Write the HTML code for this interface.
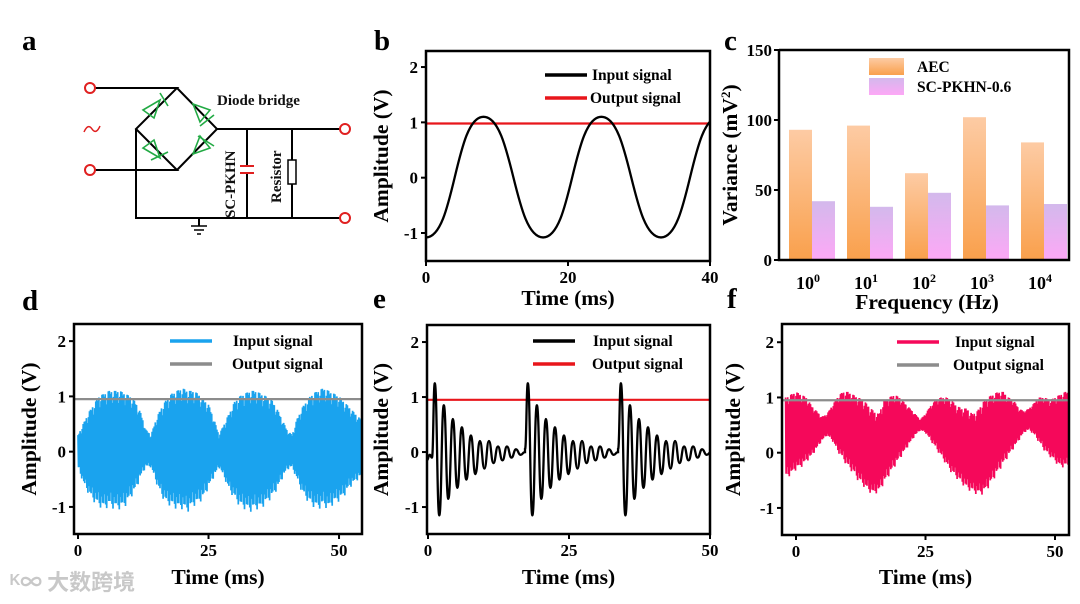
<!DOCTYPE html>
<html><head><meta charset="utf-8"><style>
html,body{margin:0;padding:0;background:#fff;}
svg{display:block;font-family:"Liberation Serif","Noto Serif CJK SC",serif;font-weight:bold;}
</style></head><body>
<svg id="fig" width="1080" height="604" viewBox="0 0 1080 604" xmlns="http://www.w3.org/2000/svg">
<defs>
<linearGradient id="gAec" x1="0" y1="0" x2="0" y2="1"><stop offset="0" stop-color="#fdcba4"/><stop offset="1" stop-color="#f9a04c"/></linearGradient>
<linearGradient id="gSc" x1="0" y1="0" x2="0" y2="1"><stop offset="0" stop-color="#d3b9ec"/><stop offset="1" stop-color="#fda8f6"/></linearGradient>
</defs>
<g font-size="29">
<text x="22" y="50">a</text>
<text x="374" y="50">b</text>
<text x="724" y="50">c</text>
<text x="22" y="310">d</text>
<text x="373" y="308">e</text>
<text x="727" y="308">f</text>
</g>
<g stroke="#000" stroke-width="2" fill="none">
<polyline points="95,88 177,88 136,129 177,170 95,170"/>
<polyline points="177,88 217,129 177,170"/>
<polyline points="136,129 136,218 340,218"/>
<line x1="217" y1="129" x2="340" y2="129"/>
<line x1="247" y1="129" x2="247" y2="167"/><line x1="247" y1="173" x2="247" y2="218"/>
<line x1="292" y1="129" x2="292" y2="160"/><line x1="292" y1="184" x2="292" y2="218"/>
<rect x="288" y="160" width="8" height="24" stroke-width="1.5"/>
<line x1="199" y1="218" x2="199" y2="226"/>
<line x1="191" y1="226" x2="207" y2="226" stroke-width="1.5"/><line x1="194" y1="230" x2="204" y2="230" stroke-width="1.5"/><line x1="197" y1="234" x2="201" y2="234" stroke-width="1.5"/>
<g stroke="#e02020" stroke-width="2"><line x1="240" y1="166" x2="254" y2="166"/><line x1="240" y1="173" x2="254" y2="173"/>
<circle cx="90" cy="88" r="5"/><circle cx="90" cy="170" r="5"/><circle cx="345" cy="129" r="5"/><circle cx="345" cy="218" r="5"/>
<path d="M84,132 q4,-9 8,-3 t8,-3" stroke-width="1.5"/></g>
<g stroke="#22aa44" stroke-width="1.6">
<polygon points="143,110 160,100 154,118"/><line x1="160" y1="93" x2="168" y2="106"/>
<polygon points="193,104 210,110 200,122"/><line x1="200" y1="126" x2="214" y2="115"/>
<polygon points="143,148 160,158 154,140"/><line x1="151" y1="160" x2="168" y2="152"/>
<polygon points="193,154 210,148 200,136"/><line x1="198" y1="136" x2="214" y2="146"/>
</g>
</g>
<g font-size="15" fill="#111">
<text x="217" y="105">Diode bridge</text>
<text transform="translate(235,218) rotate(-90)">SC-PKHN</text>
<text transform="translate(281,203) rotate(-90)">Resistor</text>
</g>
<text x="10" y="590" font-size="22" fill="#c8c8c8" font-family="Noto Sans CJK SC,sans-serif">ᴷ∞ 大数跨境</text>
<g id="charts"></g>
</svg>
<script>
// Panel b data (extrema of input sine)
const bTimes=[0,8.1,16.5,24.7,33.1,41.3];
const bVals=[-1.08,1.1,-1.08,1.1,-1.08,1.1];
const bOutput=0.98;
// Panel c data
const cCats=['0','1','2','3','4'];
const cAec=[93,96,62,102,84];
const cSc=[42,38,48,39,40];
const cTicks=[0,50,100,150];
// Panel d data: envelope samples every 1 ms from t=0
const dStart=0;
const dUpper=[0.3,0.5,0.7,0.85,1.0,1.05,1.1,1.1,1.1,1.05,1.0,0.9,0.7,0.4,0.3,0.6,0.8,0.95,1.05,1.1,1.15,1.1,1.1,1.05,0.95,0.85,0.6,0.3,0.5,0.7,0.9,1.0,1.05,1.1,1.1,1.05,1.0,0.95,0.8,0.6,0.4,0.3,0.6,0.8,0.95,1.05,1.1,1.15,1.1,1.05,1.0,0.9,0.8,0.7,0.6];
const dLower=[-0.3,-0.6,-0.8,-0.95,-1.05,-1.1,-1.05,-1.1,-1.1,-1.05,-0.9,-0.75,-0.5,-0.3,-0.3,-0.6,-0.85,-1.0,-1.05,-1.1,-1.1,-1.15,-1.05,-1.0,-0.9,-0.7,-0.5,-0.3,-0.5,-0.75,-0.9,-1.05,-1.1,-1.15,-1.1,-1.1,-1.0,-0.9,-0.75,-0.55,-0.35,-0.3,-0.55,-0.8,-0.95,-1.05,-1.1,-1.05,-1.1,-1.0,-0.95,-0.85,-0.7,-0.6,-0.5];
const dOutput=0.95;
// Panel e data
const ePulses=[1.2,17.7,34.2];
const eRing=[1.25,-1.15,0.85,-0.85,0.6,-0.65,0.45,-0.5,0.3,-0.4,0.2,-0.3,0.2,-0.2,0.1,-0.15,0.1,-0.1,0.05,-0.05];
const eHalf=0.8;
const eOutput=0.95;
// Panel f data: envelope every 1 ms from t=-2
const fStart=-2;
const fUpper=[1.0,1.05,1.1,1.05,1.0,0.85,0.75,0.65,0.7,0.85,1.0,1.1,1.1,1.05,1.0,0.95,0.85,0.75,0.7,0.95,1.0,1.05,1.0,0.9,0.8,0.7,0.6,0.7,0.85,0.95,1.0,1.0,0.95,0.85,0.8,0.8,0.7,0.75,0.9,1.0,1.05,1.1,1.1,1.0,0.95,0.8,0.75,0.8,0.9,1.0,1.0,0.95,1.0,1.05,1.1];
const fLower=[-0.5,-0.45,-0.35,-0.3,-0.2,-0.1,0.05,0.2,0.3,0.2,0.0,-0.15,-0.3,-0.4,-0.55,-0.65,-0.75,-0.8,-0.75,-0.6,-0.45,-0.3,-0.15,0.0,0.15,0.3,0.4,0.35,0.2,0.05,-0.1,-0.25,-0.4,-0.5,-0.6,-0.7,-0.75,-0.8,-0.8,-0.7,-0.55,-0.4,-0.25,-0.1,0.05,0.2,0.35,0.4,0.3,0.15,0.0,-0.1,-0.2,-0.3,-0.3];
const fOutput=0.95;
const ampTicks=[-1,0,1,2];
// spike-depth texture for the noisy traces (fraction of envelope reached per sub-sample)
const spikeDepth=[1,0.85,0.95,0.7,0.98,0.88,0.8,0.95,0.9,0.75,1,0.85];

const NS='http://www.w3.org/2000/svg';
const root=document.getElementById('charts');
function el(tag,parent){const e=document.createElementNS(NS,tag);(parent||root).appendChild(e);return e;}
function scales(P){P.sx=v=>P.x0+(v-P.xmin)/(P.xmax-P.xmin)*(P.x1-P.x0);P.sy=v=>P.y1-(v-P.ymin)/(P.ymax-P.ymin)*(P.y1-P.y0);return P;}

function axes(P,name,xt,ylab,xlab,xlabY){
  const g=el('g');
  
  
  const cp=el('clipPath',g);cp.setAttribute('id','clip-'+name);
  const cr=el('rect',cp);cr.setAttribute('x',P.x0);cr.setAttribute('y',P.y0);cr.setAttribute('width',P.x1-P.x0);cr.setAttribute('height',P.y1-P.y0);
  P.g=el('g',g);P.g.setAttribute('clip-path','url(#clip-'+name+')');
  const box=el('rect',g);
  
  
  box.setAttribute('x',P.x0);box.setAttribute('y',P.y0);box.setAttribute('width',P.x1-P.x0);box.setAttribute('height',P.y1-P.y0);
  box.setAttribute('fill','none');box.setAttribute('stroke','#000');box.setAttribute('stroke-width','2.5');
  ampTicks.forEach(v=>{
    const y=P.sy(v);
    const l=el('line',g);l.setAttribute('x1',P.x0-5);l.setAttribute('x2',P.x0);l.setAttribute('y1',y);l.setAttribute('y2',y);l.setAttribute('stroke','#000');l.setAttribute('stroke-width','2');
    const t=el('text',g);
    
    
    t.setAttribute('x',P.x0-8);t.setAttribute('y',y+6);t.setAttribute('text-anchor','end');t.setAttribute('font-size','17');t.textContent=v;
  });
  xt.forEach(v=>{
    const x=P.sx(v);
    const l=el('line',g);l.setAttribute('x1',x);l.setAttribute('x2',x);l.setAttribute('y1',P.y1);l.setAttribute('y2',P.y1+5);l.setAttribute('stroke','#000');l.setAttribute('stroke-width','2');
    const t=el('text',g);
    
    
    t.setAttribute('x',x);t.setAttribute('y',P.y1+22);t.setAttribute('text-anchor','middle');t.setAttribute('font-size','17');t.textContent=v;
  });
  const yl=el('text',g);
  
  
  yl.setAttribute('transform','translate('+(P.ylx)+','+((P.y0+P.y1)/2)+') rotate(-90)');yl.setAttribute('text-anchor','middle');yl.setAttribute('font-size','21.5');yl.textContent=ylab;
  const xl=el('text',g);
  
  
  xl.setAttribute('x',(P.x0+P.x1)/2);xl.setAttribute('y',xlabY);xl.setAttribute('text-anchor','middle');xl.setAttribute('font-size','21.5');xl.textContent=xlab;
  return g;
}
function hline(P,v,color,name){
  const l=el('line',P.g);
  
  
  l.setAttribute('x1',P.x0);l.setAttribute('x2',P.x1);l.setAttribute('y1',P.sy(v));l.setAttribute('y2',P.sy(v));l.setAttribute('stroke',color);l.setAttribute('stroke-width','2.2');
}
function smoothPath(P,pts){
  let d='M'+P.sx(pts[0][0])+','+P.sy(pts[0][1]);
  for(let i=1;i<pts.length;i++){const x0=P.sx(pts[i-1][0]),y0=P.sy(pts[i-1][1]),x1=P.sx(pts[i][0]),y1=P.sy(pts[i][1]);const m=(x1-x0)/2;
    d+=' C'+(x0+m)+','+y0+' '+(x1-m)+','+y1+' '+x1+','+y1;}
  return d;
}
function noise(P,start,up,lo,color,name){
  let d='';let n=0;
  for(let i=0;i<up.length;i++){
    const ni=Math.min(i+1,up.length-1);
    for(let k=0;k<10;k++){
      const f=k/10;const t=start+i+f;
      const u=up[i]*(1-f)+up[ni]*f, l=lo[i]*(1-f)+lo[ni]*f, mid=(u+l)/2;
      const s=spikeDepth[n%spikeDepth.length];n++;
      const v=(k%2===0)?mid+(u-mid)*s:mid+(l-mid)*s;
      d+=(d?' L':'M')+P.sx(t).toFixed(1)+','+P.sy(v).toFixed(1);
    }
  }
  const p=el('path',P.g);
  
  
  p.setAttribute('d',d);p.setAttribute('fill','none');p.setAttribute('stroke',color);p.setAttribute('stroke-width','1.7');
}
function legend(g,x,y,c1,c2,off){
  [['Input signal',c1,y],['Output signal',c2,y+23]].forEach(([txt,c,yy],i)=>{
    const l=el('line',g);
    
    
    l.setAttribute('x1',x);l.setAttribute('x2',x+42);l.setAttribute('y1',yy);l.setAttribute('y2',yy);l.setAttribute('stroke',c);l.setAttribute('stroke-width','3.5');
    const t=el('text',g);
    
    
    t.setAttribute('x',x+off[i]);t.setAttribute('y',yy+5);t.setAttribute('font-size','15.5');t.textContent=txt;
  });
}

// Panel b
const B=scales({x0:426,x1:710,y0:51,y1:261,xmin:0,xmax:40,ymin:-1.506,ymax:2.29,ylx:388});
const gb=axes(B,'panel-b-chart',[0,20,40],'Amplitude (V)','Time (ms)',305);
hline(B,bOutput,'#e8161b','output-signal-line');
const pb=el('path',B.g);


pb.setAttribute('d',smoothPath(B,bTimes.map((t,i)=>[t,bVals[i]])));pb.setAttribute('fill','none');pb.setAttribute('stroke','#000');pb.setAttribute('stroke-width','2.3');
legend(gb,545,75,'#000','#e8161b',[47,45]);

// Panel d
const D=scales({x0:74,x1:362,y0:324,y1:534,xmin:-0.77,xmax:54.4,ymin:-1.49,ymax:2.31,ylx:36});
const gd=axes(D,'panel-d-chart',[0,25,50],'Amplitude (V)','Time (ms)',584);
noise(D,dStart,dUpper,dLower,'#1aa3ee','input-signal-trace');
hline(D,dOutput,'#8c8c8c','output-signal-line');
legend(gd,170,341,'#1aa3ee','#8c8c8c',[63,62]);

// Panel e
const E=scales({x0:427,x1:710,y0:325,y1:534,xmin:-0.18,xmax:50,ymin:-1.49,ymax:2.31,ylx:388});
const ge=axes(E,'panel-e-chart',[0,25,50],'Amplitude (V)','Time (ms)',584);
hline(E,eOutput,'#e8161b','output-signal-line');
const ePts=[[-0.2,-0.15],[0.3,-0.05],[0.7,-0.1]];
ePulses.forEach((p,j)=>{
  eRing.forEach((v,k)=>ePts.push([p+k*eHalf,v]));
  const end=p+eRing.length*eHalf;
  const next=j+1<ePulses.length?ePulses[j+1]-0.5:50.5;
  ePts.push([end,0.0]);ePts.push([next,0.05]);
});
const pe=el('path',E.g);


pe.setAttribute('d',smoothPath(E,ePts));pe.setAttribute('fill','none');pe.setAttribute('stroke','#000');pe.setAttribute('stroke-width','2.3');
legend(ge,533,341,'#000','#e8161b',[60,59]);

// Panel f
const F=scales({x0:782,x1:1069,y0:324,y1:535,xmin:-2.7,xmax:52.7,ymin:-1.49,ymax:2.33,ylx:740});
const gf=axes(F,'panel-f-chart',[0,25,50],'Amplitude (V)','Time (ms)',584);
noise(F,fStart,fUpper,fLower,'#f5085a','input-signal-trace');
hline(F,fOutput,'#8c8c8c','output-signal-line');
legend(gf,897,342,'#f5085a','#8c8c8c',[58,56]);

// Panel c
const C={x0:779,x1:1069,y0:50,y1:260};
const csy=v=>C.y1-v/150*(C.y1-C.y0);
const gc=el('g');


const step=(C.x1-C.x0)/cCats.length;
cCats.forEach((c,i)=>{
  const cx=C.x0+step*(i+0.5)+5;
  const r1=el('rect',gc);
  
  
  r1.setAttribute('x',cx-24);r1.setAttribute('width',23);r1.setAttribute('y',csy(cAec[i]));r1.setAttribute('height',C.y1-csy(cAec[i]));r1.setAttribute('fill','url(#gAec)');
  const r2=el('rect',gc);
  
  
  r2.setAttribute('x',cx-1);r2.setAttribute('width',23);r2.setAttribute('y',csy(cSc[i]));r2.setAttribute('height',C.y1-csy(cSc[i]));r2.setAttribute('fill','url(#gSc)');
  const t=el('text',gc);
  
  
  t.setAttribute('x',cx-5);t.setAttribute('y',289);t.setAttribute('text-anchor','middle');t.setAttribute('font-size','18');
  t.textContent='10';const s=el('tspan',t);s.setAttribute('dy','-7');s.setAttribute('font-size','12');s.textContent=c;
});
const cb=el('polyline',gc);


cb.setAttribute('points',C.x0+','+C.y0+' '+C.x1+','+C.y0+' '+C.x1+','+C.y1+' '+C.x0+','+C.y1+' '+C.x0+','+C.y0);cb.setAttribute('fill','none');cb.setAttribute('stroke','#000');cb.setAttribute('stroke-width','2.5');
cTicks.forEach(v=>{
  const l=el('line',gc);l.setAttribute('x1',C.x0-5);l.setAttribute('x2',C.x0);l.setAttribute('y1',csy(v));l.setAttribute('y2',csy(v));l.setAttribute('stroke','#000');l.setAttribute('stroke-width','2');
  const t=el('text',gc);
  
  
  t.setAttribute('x',C.x0-7);t.setAttribute('y',csy(v)+6);t.setAttribute('text-anchor','end');t.setAttribute('font-size','17');t.textContent=v;
});
const cyl=el('text',gc);


cyl.setAttribute('transform','translate(737,155) rotate(-90)');cyl.setAttribute('text-anchor','middle');cyl.setAttribute('font-size','21.5');
cyl.textContent='Variance (mV';const sup=el('tspan',cyl);sup.setAttribute('dy','-7');sup.setAttribute('font-size','13');sup.textContent='2';const cl=el('tspan',cyl);cl.setAttribute('dy','7');cl.textContent=')';
const cxl=el('text',gc);


cxl.setAttribute('x',927);cxl.setAttribute('y',309);cxl.setAttribute('text-anchor','middle');cxl.setAttribute('font-size','21.5');cxl.textContent='Frequency (Hz)';
[['AEC','url(#gAec)',58],['SC-PKHN-0.6','url(#gSc)',78]].forEach(([txt,f,y],i)=>{
  const r=el('rect',gc);
  
  
  r.setAttribute('x',869);r.setAttribute('y',y);r.setAttribute('width',35);r.setAttribute('height',17);r.setAttribute('fill',f);
  const t=el('text',gc);
  
  
  t.setAttribute('x',917);t.setAttribute('y',y+14);t.setAttribute('font-size','15.5');t.textContent=txt;
});
</script>
</body></html>
